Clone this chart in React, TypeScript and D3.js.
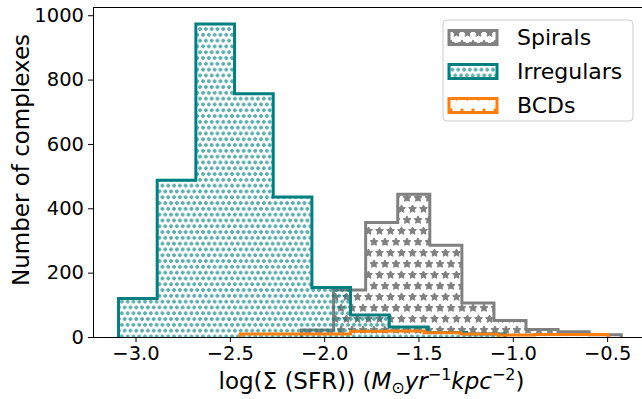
import React, { useEffect, useRef } from "react";
import * as d3 from "d3";

// bin edges and counts
const spiralEdges = [-2.12, -1.95, -1.78, -1.61, -1.44, -1.27, -1.1, -0.93, -0.76, -0.595, -0.425];
const spiralCounts = [22, 146, 356, 444, 285, 106, 51, 23, 16, 7];

const irregularEdges = [-3.09, -2.885, -2.68, -2.475, -2.27, -2.065, -1.86, -1.655, -1.45, -1.245, -1.04];
const irregularCounts = [120, 487, 973, 756, 435, 154, 68, 31, 14, 9];

const bcdEdges = [-2.445, -2.25, -2.055, -1.86, -1.665, -1.47, -1.275, -1.08, -0.885, -0.69, -0.495];
const bcdCounts = [9, 9, 9, 18, 19, 13, 9, 6, 8, 8];

const xTicks = [-3.0, -2.5, -2.0, -1.5, -1.0, -0.5];
const yTicks = [0, 200, 400, 600, 800, 1000];

const seriesNames = ["Spirals", "Irregulars", "BCDs"];
const seriesColors = ["#808080", "#008080", "#ff7f0e"];
const seriesPatterns = ["hatchStars", "hatchCircles", "hatchDots"];

const FONT = "DejaVu Sans, sans-serif";

export default function App() {
  const ref = useRef<SVGSVGElement>(null);

  useEffect(() => {
    if (!ref.current) return;
    const svg = d3.select(ref.current);
    svg.selectAll("*").remove();

    const left = 93;
    const right = 650;
    const top = 7.5;
    const bottom = 337;

    const x = d3.scaleLinear().domain([-3.2253, -0.2728]).range([left, right]);
    const y = d3.scaleLinear().domain([0, 1024]).range([bottom, top]);

    const defs = svg.append("defs");
    defs
      .append("clipPath")
      .attr("id", "plotClip")
      .append("rect")
      .attr("x", left)
      .attr("y", top)
      .attr("width", right - left)
      .attr("height", bottom - top);

    // star hatch '*'
    const starPath = (r: number) => {
      const pts: [number, number][] = [];
      for (let i = 0; i < 10; i++) {
        const rr = i % 2 === 0 ? r : r * 0.5;
        const a = -Math.PI / 2 + (i * Math.PI) / 5;
        pts.push([rr * Math.cos(a), rr * Math.sin(a)]);
      }
      return "M" + pts.map((p) => p.join(",")).join("L") + "Z";
    };
    const addPattern = (id: string, step: number, draw: (g: any, cx: number, cy: number) => void) => {
      const p = defs
        .append("pattern")
        .attr("id", id)
        .attr("patternUnits", "userSpaceOnUse")
        .attr("width", step)
        .attr("height", step * 2);
      const centers: [number, number][] = [
        [0, 0],
        [step, 0],
        [step / 2, step],
        [0, step * 2],
        [step, step * 2],
      ];
      centers.forEach(([cx, cy]) => draw(p, cx, cy));
    };
    addPattern("hatchStars", 11, (g, cx, cy) => {
      g.append("path")
        .attr("d", starPath(4.1))
        .attr("transform", `translate(${cx},${cy})`)
        .attr("fill", seriesColors[0])
        .attr("stroke", seriesColors[0])
        .attr("stroke-width", 1);
    });
    addPattern("hatchCircles", 5.8, (g, cx, cy) => {
      g.append("circle")
        .attr("cx", cx)
        .attr("cy", cy)
        .attr("r", 1.2)
        .attr("fill", "none")
        .attr("stroke", seriesColors[1])
        .attr("stroke-width", 1.05);
    });
    addPattern("hatchDots", 11, (g, cx, cy) => {
      g.append("circle")
        .attr("cx", cx)
        .attr("cy", cy)
        .attr("r", 1.2)
        .attr("fill", seriesColors[2])
        .attr("stroke", seriesColors[2])
        .attr("stroke-width", 1);
    });

    const stepPoints = (edges: number[], counts: number[]) => {
      const pts: [number, number][] = [[x(edges[0]), y(0)]];
      counts.forEach((c, i) => {
        pts.push([x(edges[i]), y(c)]);
        pts.push([x(edges[i + 1]), y(c)]);
      });
      pts.push([x(edges[edges.length - 1]), y(0)]);
      return pts;
    };
    const line = d3.line();

    const plot = svg.append("g").attr("clip-path", "url(#plotClip)");
    const series = [
      { edges: spiralEdges, counts: spiralCounts },
      { edges: irregularEdges, counts: irregularCounts },
      { edges: bcdEdges, counts: bcdCounts },
    ];
    series.forEach((s, i) => {
      const pts = stepPoints(s.edges, s.counts);
      plot
        .append("path")
        .attr("d", line(pts) + "Z")
        .attr("fill", `url(#${seriesPatterns[i]})`)
        .attr("stroke", "none");
      plot
        .append("path")
        .attr("d", line(pts))
        .attr("fill", "none")
        .attr("stroke", seriesColors[i])
        .attr("stroke-width", 3)
        .attr("stroke-linejoin", "miter");
    });

    // spines
    const spines = svg.append("g").attr("stroke", "#000").attr("stroke-width", 1).attr("shape-rendering", "crispEdges");
    spines.append("line").attr("x1", left).attr("x2", left).attr("y1", top).attr("y2", bottom);
    spines.append("line").attr("x1", left).attr("x2", right).attr("y1", bottom).attr("y2", bottom);
    spines.append("line").attr("x1", left).attr("x2", right).attr("y1", top).attr("y2", top);

    // axes
    const xAxis = d3
      .axisBottom(x)
      .tickValues(xTicks)
      .tickSize(5)
      .tickPadding(4)
      .tickFormat((d) => d3.format(".1f")(d as number).replace("-", "\u2212"));
    const gx = svg.append("g").attr("transform", `translate(0,${bottom})`).call(xAxis);
    const yAxis = d3.axisLeft(y).tickValues(yTicks).tickSize(5).tickPadding(4).tickFormat(d3.format("d"));
    const gy = svg.append("g").attr("transform", `translate(${left},0)`).call(yAxis);
    [gx, gy].forEach((g) => {
      g.select(".domain").remove();
      g.selectAll("text").attr("font-family", FONT).attr("font-size", 19.5).attr("fill", "#000");
      g.selectAll("line").attr("stroke", "#000");
    });

    // axis labels
    svg
      .append("text")
      .attr("transform", `translate(29,160) rotate(-90)`)
      .attr("text-anchor", "middle")
      .attr("font-family", FONT)
      .attr("font-size", 23)
      .text("Number of complexes");

    const xl = svg
      .append("text")
      .attr("x", 371.5)
      .attr("y", 389)
      .attr("text-anchor", "middle")
      .attr("font-family", FONT)
      .attr("font-size", 23);
    xl.append("tspan").text("log(\u03a3 (SFR)) (");
    xl.append("tspan").attr("font-style", "italic").text("M");
    xl.append("tspan").attr("font-size", 16).attr("dy", 4).text("\u2299");
    xl.append("tspan").attr("font-style", "italic").attr("dy", -4).text("yr");
    xl.append("tspan").attr("font-size", 16).attr("dy", -9).text("\u22121");
    xl.append("tspan").attr("font-style", "italic").attr("dy", 9).text("kpc");
    xl.append("tspan").attr("font-size", 16).attr("dy", -9).text("\u22122");
    xl.append("tspan").attr("dy", 9).text(")");

    // legend
    const lg = svg.append("g");
    lg.append("rect")
      .attr("x", 443)
      .attr("y", 20)
      .attr("width", 190)
      .attr("height", 101)
      .attr("rx", 4)
      .attr("fill", "#fff")
      .attr("fill-opacity", 0.8)
      .attr("stroke", "#cccccc")
      .attr("stroke-width", 1);
    seriesNames.forEach((name, i) => {
      const cy = 37.5 + i * 34;
      lg.append("rect")
        .attr("x", 449)
        .attr("y", cy - 7)
        .attr("width", 48)
        .attr("height", 14)
        .attr("fill", `url(#${seriesPatterns[i]})`)
        .attr("stroke", seriesColors[i])
        .attr("stroke-width", 3);
      lg.append("text")
        .attr("x", 517)
        .attr("y", cy)
        .attr("dy", "0.35em")
        .attr("font-family", FONT)
        .attr("font-size", 22)
        .attr("fill", "#000")
        .text(name);
    });
  }, []);

  return (
    <svg
      ref={ref}
      width={642}
      height={399}
      style={{ position: "absolute", left: 0, top: 0, background: "#fff" }}
    />
  );
}
